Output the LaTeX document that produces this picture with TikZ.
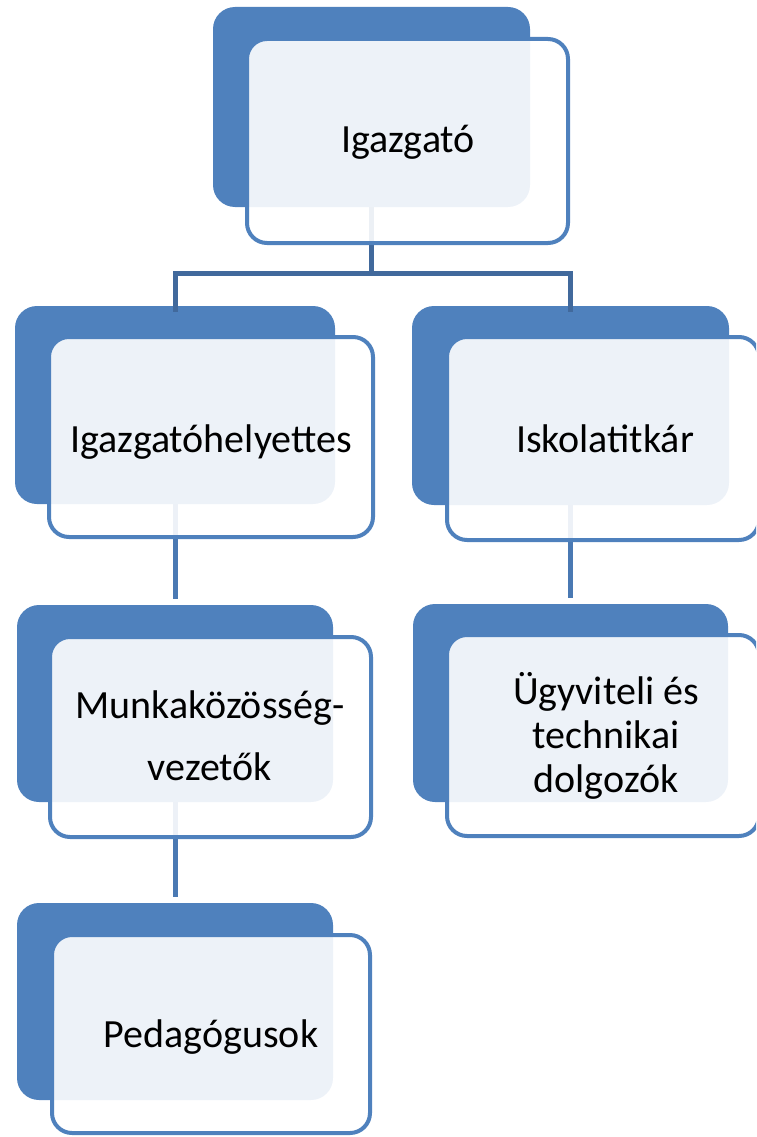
\documentclass[tikz,border=0pt]{standalone}
\usepackage{fontspec}
\setmainfont{Carlito}
\definecolor{acc}{HTML}{4F81BD}
\definecolor{linedark}{HTML}{41699C}
\definecolor{linemid}{HTML}{4A79B3}
\begin{document}
\begin{tikzpicture}[x=1pt,y=-1pt,
  backbox/.style={rectangle, rounded corners=22pt, fill=acc, draw=none, inner sep=0pt},
  frontbox/.style={rectangle, rounded corners=20pt, fill=white, fill opacity=0.9, draw=acc, draw opacity=1, line width=4pt, inner sep=0pt},
  lbl/.style={font=\fontsize{40}{44}\selectfont, align=center, anchor=base, inner sep=0pt, text=black},
  conn/.style={line width=5pt, draw=linedark},
  conn2/.style={line width=5pt, draw=linemid, shorten >=6pt}]
\useasboundingbox (0,0) rectangle (756,1137);
\clip (0,0) rectangle (756,1137);
% back boxes
\node[backbox, minimum width=317pt, minimum height=200pt] (b1) at (371.5,107) {};
\node[backbox, minimum width=320pt, minimum height=198pt] (b2) at (175,405) {};
\node[backbox, minimum width=317pt, minimum height=199pt] (b3) at (570.5,405.5) {};
\node[backbox, minimum width=316pt, minimum height=197pt] (b4) at (175,703.5) {};
\node[backbox, minimum width=315pt, minimum height=198pt] (b5) at (570.5,703) {};
\node[backbox, minimum width=316pt, minimum height=197pt] (b6) at (175,1001.5) {};
% connectors
\coordinate (bar) at (371.5,273);
\draw[conn] (b1.south) -- (bar);
\draw[conn, line cap=butt] ([yshift=-6pt]b2.north) |- (bar) -| ([yshift=-6pt]b3.north);
\draw[conn2] (b2.south) -- (b4.north);
\draw[conn2] (b3.south) -- (b5.north);
\draw[conn2] (b4.south) -- (b6.north);
% front boxes
\node[frontbox, minimum width=321pt, minimum height=204pt] (f1) at (407.5,141) {};
\node[frontbox, minimum width=324pt, minimum height=200pt] (f2) at (211,437) {};
\node[frontbox, minimum width=312pt, minimum height=203pt] (f3) at (603,438.5) {};
\node[frontbox, minimum width=321pt, minimum height=200pt] (f4) at (210.5,737) {};
\node[frontbox, minimum width=312pt, minimum height=201pt] (f5) at (603,735.5) {};
\node[frontbox, minimum width=318pt, minimum height=198pt] (f6) at (211,1034) {};
% labels
\node[lbl] (t1) at (408,153) {Igazgató};
\node[lbl] (t2) at (211,452) {Igazgatóhelyettes};
\node[lbl] (t3) at (605,452) {Iskolatitkár};
\node[lbl, font=\fontsize{40}{62}\selectfont] (t4) at (210,780) {Munkaközösség-\\vezetők};
\node[lbl, font=\fontsize{40}{44}\selectfont] (t5) at (606,792) {Ügyviteli és\\technikai\\dolgozók};
\node[lbl] (t6) at (211,1047) {Pedagógusok};
\end{tikzpicture}
\end{document}
